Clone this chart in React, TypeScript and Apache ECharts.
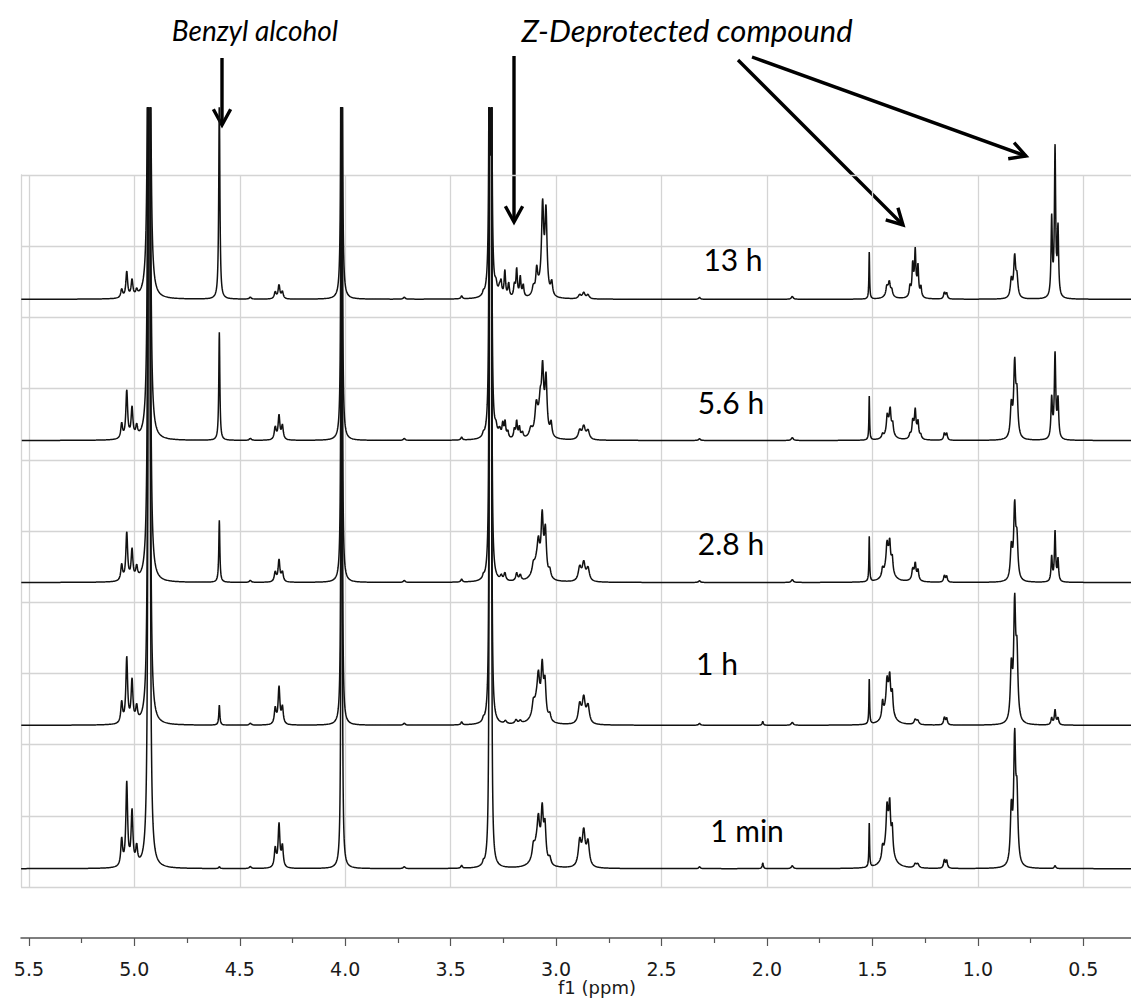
import React, { useEffect, useRef } from "react";
import * as echarts from "echarts";

type Peak = [number, number, number]; // [ppm, height, half-width (ppm)]

// x-axis tick labels (ppm)
const ppmTicks = [5.5, 5.0, 4.5, 4.0, 3.5, 3.0, 2.5, 2.0, 1.5, 1.0, 0.5];
// spectrum labels, bottom to top
const timeLabels = ["1 min", "1 h", "2.8 h", "5.6 h", "13 h"];
// vertical stacking offset of each spectrum (intensity units)
const baselineOffsets = [18.3, 161.7, 304.5, 446.5, 587.7];

// peaks present in every spectrum (solvent / reagent)
const solventPeaks: Peak[] = [
  [4.93, 5000, 0.00177],
  [4.017, 3000, 0.0012],
  [3.3145, 3000, 0.0011],
  [3.3085, 3000, 0.0011],
  [3.448, 3, 0.004],
  [3.345, 3, 0.004],
  [3.72, 2, 0.005],
  [4.45, 2, 0.005],
  [2.32, 2, 0.004],
  [1.88, 3, 0.005],
];

const peaks1min: Peak[] = [
  [5.06, 27, 0.005], [5.036, 83, 0.005], [5.011, 54, 0.005], [4.989, 18, 0.005],
  [4.597, 2, 0.003],
  [4.332, 19, 0.005], [4.314, 43, 0.005], [4.298, 21, 0.005],
  [3.09, 24, 0.02], [3.108, 11, 0.006], [3.084, 27, 0.006], [3.066, 47, 0.006], [3.053, 35, 0.006], [3.03, 7, 0.006],
  [2.888, 25, 0.008], [2.869, 34, 0.008], [2.849, 24, 0.008],
  [2.02, 6, 0.003],
  [1.515, 44, 0.002],
  [1.425, 40, 0.018], [1.452, 12, 0.004], [1.431, 27, 0.004], [1.418, 32, 0.004], [1.406, 23, 0.004],
  [1.297, 4, 0.006], [1.285, 4, 0.006],
  [1.159, 9, 0.004], [1.148, 8, 0.004],
  [0.8413, 54, 0.0055], [0.8255, 122, 0.0055], [0.8147, 64, 0.0055],
  [0.634, 3, 0.004],
];

const peaks1h: Peak[] = [
  [5.06, 21, 0.005], [5.036, 65, 0.005], [5.011, 42, 0.005], [4.989, 15, 0.005],
  [4.597, 20, 0.003],
  [4.332, 16, 0.005], [4.314, 37, 0.005], [4.298, 17, 0.005],
  [3.24, 3, 0.006], [3.19, 4, 0.006], [3.17, 3, 0.006],
  [3.09, 24, 0.02], [3.108, 11, 0.006], [3.084, 27, 0.006], [3.066, 47, 0.006], [3.053, 35, 0.006], [3.03, 7, 0.006],
  [2.888, 19, 0.008], [2.869, 25, 0.008], [2.849, 18, 0.008],
  [2.02, 4, 0.003],
  [1.515, 45, 0.002],
  [1.425, 30, 0.018], [1.452, 16, 0.004], [1.431, 20, 0.004], [1.418, 24, 0.004], [1.406, 20, 0.004],
  [1.297, 5, 0.006], [1.285, 4, 0.006],
  [1.159, 8, 0.004], [1.148, 7, 0.004],
  [0.8413, 53, 0.0055], [0.8255, 114, 0.0055], [0.8147, 63, 0.0055],
  [0.65, 7, 0.004], [0.634, 15, 0.004], [0.62, 7, 0.004],
];

const peaks2_8h: Peak[] = [
  [5.06, 16, 0.005], [5.036, 48, 0.005], [5.011, 30, 0.005], [4.989, 12, 0.005],
  [4.597, 62, 0.003],
  [4.332, 10, 0.005], [4.314, 22, 0.005], [4.298, 10, 0.005],
  [3.26, 5, 0.005], [3.243, 8, 0.005], [3.187, 8, 0.005], [3.17, 6, 0.005],
  [3.09, 20, 0.02], [3.108, 8, 0.006], [3.084, 21, 0.006], [3.066, 56, 0.006], [3.051, 45, 0.006], [3.03, 8, 0.006],
  [2.888, 14, 0.008], [2.869, 18, 0.008], [2.849, 13, 0.008],
  [1.515, 45, 0.002],
  [1.425, 25, 0.018], [1.452, 8, 0.004], [1.431, 18, 0.004], [1.418, 20, 0.004], [1.406, 14, 0.004],
  [1.3, 5, 0.015], [1.309, 10, 0.004], [1.297, 14, 0.004], [1.284, 10, 0.004],
  [1.159, 7, 0.004], [1.148, 6, 0.004],
  [0.8413, 32, 0.0055], [0.8255, 72, 0.0055], [0.8147, 38, 0.0055],
  [0.65, 25, 0.0035], [0.634, 50, 0.0035], [0.62, 22, 0.0035],
];

const peaks5_6h: Peak[] = [
  [5.06, 15, 0.005], [5.036, 48, 0.005], [5.011, 30, 0.005], [4.989, 11, 0.005],
  [4.597, 108, 0.003],
  [4.332, 13, 0.005], [4.314, 24, 0.005], [4.298, 14, 0.005],
  [3.285, 8, 0.006], [3.268, 8, 0.006], [3.253, 14, 0.004], [3.242, 16, 0.004], [3.229, 7, 0.004],
  [3.198, 9, 0.004], [3.187, 17, 0.004], [3.174, 11, 0.004], [3.16, 6, 0.005],
  [3.12, 8, 0.008], [3.094, 25, 0.007], [3.08, 15, 0.02], [3.075, 20, 0.006],
  [3.064, 58, 0.006], [3.048, 55, 0.006], [3.024, 14, 0.005],
  [2.888, 9, 0.008], [2.869, 13, 0.008], [2.849, 9, 0.008],
  [1.515, 44, 0.002],
  [1.42, 15, 0.016], [1.452, 4, 0.004], [1.43, 15, 0.004], [1.416, 18, 0.004], [1.404, 10, 0.004],
  [1.3, 8, 0.012], [1.322, 4, 0.004], [1.309, 14, 0.004], [1.297, 22, 0.004], [1.284, 16, 0.004], [1.271, 4, 0.004],
  [1.159, 7, 0.004], [1.148, 7, 0.004],
  [0.8413, 32, 0.0055], [0.8255, 72, 0.0055], [0.8147, 40, 0.0055],
  [0.65, 40, 0.004], [0.634, 84, 0.004], [0.62, 38, 0.004],
];

const peaks13h: Peak[] = [
  [5.06, 9, 0.005], [5.036, 26, 0.005], [5.011, 17, 0.005], [4.989, 6, 0.005],
  [4.597, 200, 0.0032],
  [4.332, 7, 0.005], [4.314, 14, 0.005], [4.298, 7, 0.005],
  [3.285, 9, 0.006], [3.268, 8, 0.006], [3.261, 12, 0.004], [3.243, 26, 0.004], [3.225, 14, 0.004],
  [3.198, 12, 0.004], [3.187, 28, 0.004], [3.17, 20, 0.004], [3.156, 12, 0.004],
  [3.108, 8, 0.006], [3.092, 22, 0.005], [3.08, 8, 0.02],
  [3.064, 85, 0.006], [3.048, 81, 0.006], [3.021, 14, 0.005],
  [2.888, 4, 0.007], [2.869, 6, 0.007], [2.849, 4, 0.007],
  [1.515, 47, 0.002],
  [1.422, 10, 0.014], [1.432, 7, 0.004], [1.42, 8, 0.004], [1.408, 5, 0.004],
  [1.3, 10, 0.014], [1.322, 10, 0.0035], [1.309, 28, 0.0035], [1.297, 38, 0.0035], [1.284, 28, 0.0035], [1.27, 10, 0.0035],
  [1.159, 7, 0.004], [1.148, 6, 0.004],
  [0.8413, 18, 0.0055], [0.8255, 40, 0.0055], [0.8147, 19, 0.0055],
  [0.65, 78, 0.0035], [0.634, 148, 0.0035], [0.62, 67, 0.0035],
];

const spectraPeaks: Peak[][] = [peaks1min, peaks1h, peaks2_8h, peaks5_6h, peaks13h];

// layout (pixels)
const W = 1131;
const H = 998;
const BOX_LEFT = 21;
const BOX_TOP = 175;
const BOX_BOTTOM = 887;
const DATA_TOP = 108;
const AXIS_OFFSET = 51;
const TICK_LEFT = 28.9; // 5.5 ppm
const TICK_RIGHT = 1083.3; // 0.5 ppm
const PX_PER_PPM = (TICK_RIGHT - TICK_LEFT) / 5;
const PPM_LEFT = 5.5 + (TICK_LEFT - BOX_LEFT) / PX_PER_PPM;
const PPM_RIGHT = 0.5 - (W - TICK_RIGHT) / PX_PER_PPM;
const Y_MAX = BOX_BOTTOM - DATA_TOP;

function buildSpectrum(peaks: Peak[], offset: number): number[][] {
  const all = peaks.concat(solventPeaks);
  const xs: number[] = [];
  const step = 0.0008;
  for (let x = PPM_RIGHT; x <= PPM_LEFT; x += step) xs.push(x);
  all.forEach((p) => xs.push(p[0]));
  xs.sort((a, b) => a - b);
  return xs.map((x) => {
    let y = offset;
    for (const [c, h, g] of all) {
      const d = (x - c) / g;
      y += h / (1 + d * d);
    }
    return [x, y];
  });
}

function arrow(x1: number, y1: number, x2: number, y2: number) {
  const ang = Math.atan2(y2 - y1, x2 - x1);
  const len = 18;
  const spread = 0.5;
  const a1 = [x2 - len * Math.cos(ang - spread), y2 - len * Math.sin(ang - spread)];
  const a2 = [x2 - len * Math.cos(ang + spread), y2 - len * Math.sin(ang + spread)];
  return [
    { type: "line", shape: { x1, y1, x2, y2 }, style: { stroke: "#000", lineWidth: 3.4 } },
    {
      type: "polyline",
      shape: { points: [a1, [x2, y2], a2] },
      style: { stroke: "#000", lineWidth: 3.4, fill: null, lineJoin: "miter" },
    },
  ];
}

export default function App() {
  const ref = useRef<HTMLDivElement>(null);
  useEffect(() => {
    if (!ref.current) return;
    const chart = echarts.init(ref.current, undefined, { renderer: "svg" });
    const gridColor = "#d4d4d4";
    const axisColor = "#555";
    const labelFont = "Lato, 'Liberation Sans', sans-serif";

    const series = spectraPeaks.map((pk, i) => ({
      type: "line",
      xAxisIndex: 2,
      yAxisIndex: 2,
      data: buildSpectrum(pk, baselineOffsets[i]),
      showSymbol: false,
      symbol: "none",
      silent: true,
      clip: true,
      lineStyle: { color: "#111", width: 1.5 },
      z: 5,
    }));

    const labelPos = [
      [747, 830],
      [717, 663],
      [731, 543],
      [731, 402],
      [733, 259],
    ];

    const graphic: any[] = [
      {
        type: "text",
        x: 255,
        y: 30,
        style: {
          text: "Benzyl alcohol",
          fontSize: 28,
          fontFamily: labelFont,
          fontStyle: "italic",
          fill: "#000",
          align: "center",
          verticalAlign: "middle",
        },
      },
      {
        type: "text",
        x: 687,
        y: 30,
        style: {
          text: "Z-Deprotected compound",
          fontSize: 31,
          fontFamily: labelFont,
          fontStyle: "italic",
          fill: "#000",
          align: "center",
          verticalAlign: "middle",
        },
      },
      {
        type: "text",
        x: 597,
        y: 987,
        style: {
          text: "f1 (ppm)",
          fontSize: 18,
          fontFamily: "DejaVu Sans",
          fill: "#1a1a1a",
          align: "center",
          verticalAlign: "middle",
        },
      },
      ...timeLabels.map((t, i) => ({
        type: "text",
        x: labelPos[i][0],
        y: labelPos[i][1],
        z: 10,
        style: {
          text: t,
          fontSize: 30,
          fontFamily: labelFont,
          fill: "#000",
          align: "center",
          verticalAlign: "middle",
        },
      })),
      ...arrow(222, 58, 222, 125),
      ...arrow(514, 56, 514, 222),
      ...arrow(738, 60, 903, 225),
      ...arrow(752, 57, 1026, 156),
    ];

    chart.setOption({
      animation: false,
      backgroundColor: "#fff",
      grid: [
        { left: BOX_LEFT, right: 0, top: BOX_TOP, height: BOX_BOTTOM - BOX_TOP },
        { left: TICK_LEFT, width: TICK_RIGHT - TICK_LEFT, top: BOX_TOP, height: BOX_BOTTOM - BOX_TOP },
        { left: BOX_LEFT, right: 0, top: DATA_TOP, height: BOX_BOTTOM - DATA_TOP },
      ],
      xAxis: [
        {
          gridIndex: 0,
          type: "value",
          min: PPM_RIGHT,
          max: PPM_LEFT,
          inverse: true,
          position: "bottom",
          offset: AXIS_OFFSET,
          axisLine: { show: true, onZero: false, lineStyle: { color: axisColor, width: 1.5 } },
          axisTick: { show: false },
          axisLabel: { show: false },
          splitLine: { show: false },
        },
        {
          gridIndex: 1,
          type: "value",
          min: 0.5,
          max: 5.5,
          interval: 0.5,
          inverse: true,
          position: "bottom",
          offset: AXIS_OFFSET,
          axisLine: { show: false, onZero: false },
          axisTick: { show: true, length: 8, lineStyle: { color: axisColor, width: 1.2 } },
          minorTick: { show: true, splitNumber: 2, length: 5, lineStyle: { color: axisColor, width: 1.2 } },
          axisLabel: {
            show: true,
            margin: 21,
            fontSize: 19,
            fontFamily: "DejaVu Sans",
            color: "#1a1a1a",
            formatter: (v: number) => (ppmTicks.some((t) => Math.abs(t - v) < 1e-6) ? v.toFixed(1) : ""),
          },
          splitLine: { show: true, lineStyle: { color: gridColor, width: 1.3 } },
        },
        {
          gridIndex: 2,
          type: "value",
          min: PPM_RIGHT,
          max: PPM_LEFT,
          inverse: true,
          show: false,
        },
      ],
      yAxis: [
        {
          gridIndex: 0,
          type: "value",
          min: 0,
          max: 10,
          interval: 1,
          axisLine: { show: true, onZero: false, lineStyle: { color: gridColor, width: 1.3 } },
          axisTick: { show: false },
          axisLabel: { show: false },
          splitLine: { show: true, lineStyle: { color: gridColor, width: 1.3 } },
        },
        { gridIndex: 1, type: "value", min: 0, max: 1, show: false },
        { gridIndex: 2, type: "value", min: 0, max: Y_MAX, show: false },
      ],
      series,
      graphic,
    });
    return () => chart.dispose();
  }, []);
  return <div ref={ref} style={{ width: W, height: H, position: "absolute", left: 0, top: 0 }} />;
}
